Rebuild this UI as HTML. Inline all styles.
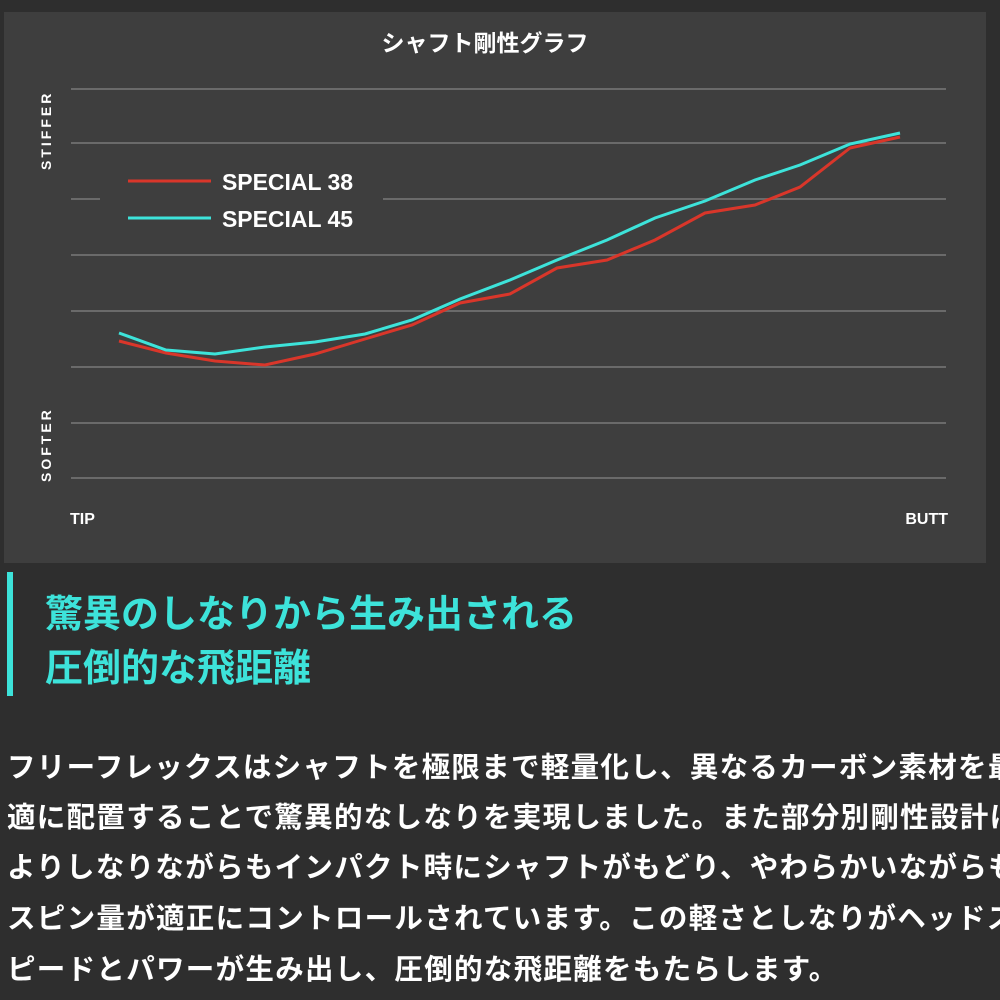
<!DOCTYPE html>
<html><head><meta charset="utf-8"><style>
body{margin:0;width:1000px;height:1000px;background:#2e2e2e;overflow:hidden;font-family:"Liberation Sans","Noto Sans CJK JP",sans-serif;position:relative}
.panel{position:absolute;left:4px;top:12px;width:982px;height:551px;background:#3e3e3e}
.bar{position:absolute;left:7px;top:572px;width:6px;height:124px;background:#3de3da}
.h{position:absolute;left:45px;color:#3de3da;font-weight:bold;font-size:38px;white-space:nowrap}
.p{position:absolute;left:7px;color:#fff;font-weight:bold;font-size:28.5px;white-space:nowrap;letter-spacing:1.3px}
</style></head><body>
<div class="panel"></div>
<svg width="1000" height="580" style="position:absolute;left:0;top:0">
<g stroke="#6a6a6a" stroke-width="2">
<line x1="71" y1="89" x2="946" y2="89"/>
<line x1="71" y1="143" x2="946" y2="143"/>
<line x1="71" y1="199" x2="100" y2="199"/><line x1="383" y1="199" x2="946" y2="199"/>
<line x1="71" y1="255" x2="946" y2="255"/>
<line x1="71" y1="311" x2="946" y2="311"/>
<line x1="71" y1="367" x2="946" y2="367"/>
<line x1="71" y1="423" x2="946" y2="423"/>
<line x1="71" y1="478" x2="946" y2="478"/>
</g>
<text x="485" y="51" fill="#fff" font-size="23" font-weight="bold" text-anchor="middle" font-family="Liberation Sans,Noto Sans CJK JP,sans-serif">シャフト剛性グラフ</text>
<text transform="translate(51,170) rotate(-90)" fill="#fff" font-size="14" font-weight="bold" letter-spacing="3" font-family="Liberation Sans,sans-serif">STIFFER</text>
<text transform="translate(51,482) rotate(-90)" fill="#fff" font-size="14" font-weight="bold" letter-spacing="3" font-family="Liberation Sans,sans-serif">SOFTER</text>
<text x="70" y="524" fill="#fff" font-size="16" font-weight="bold" font-family="Liberation Sans,sans-serif">TIP</text>
<text x="948" y="524" fill="#fff" font-size="16" font-weight="bold" text-anchor="end" font-family="Liberation Sans,sans-serif">BUTT</text>
<line x1="128" y1="181" x2="211" y2="181" stroke="#d9362a" stroke-width="3"/>
<line x1="128" y1="218" x2="211" y2="218" stroke="#3de3da" stroke-width="3"/>
<text x="222" y="190" fill="#fff" font-size="23" font-weight="bold" textLength="131" font-family="Liberation Sans,sans-serif">SPECIAL 38</text>
<text x="222" y="227" fill="#fff" font-size="23" font-weight="bold" textLength="131" font-family="Liberation Sans,sans-serif">SPECIAL 45</text>
<polyline fill="none" stroke="#d9362a" stroke-width="3" points="119,341 166,353 215,361 265,365 315,354 365,339 412,325 460,303 510,294 557,268 607,260 655,240 705,213 755,205 800,187 850,148 900,137"/>
<polyline fill="none" stroke="#3de3da" stroke-width="3" points="119,333 166,350 215,354 265,347 315,342 365,334 412,320 460,299 510,280 557,260 607,240 655,218 705,201 755,180 800,165 850,144 900,133"/>
</svg>
<div class="bar"></div>
<div class="h" style="top:583px">驚異のしなりから生み出される</div>
<div class="h" style="top:637px">圧倒的な飛距離</div>
<div class="p" style="top:745px">フリーフレックスはシャフトを極限まで軽量化し、異なるカーボン素材を最</div>
<div class="p" style="top:795px">適に配置することで驚異的なしなりを実現しました。また部分別剛性設計に</div>
<div class="p" style="top:845px">よりしなりながらもインパクト時にシャフトがもどり、やわらかいながらも</div>
<div class="p" style="top:896px">スピン量が適正にコントロールされています。この軽さとしなりがヘッドス</div>
<div class="p" style="top:947px">ピードとパワーが生み出し、圧倒的な飛距離をもたらします。</div>
</body></html>
